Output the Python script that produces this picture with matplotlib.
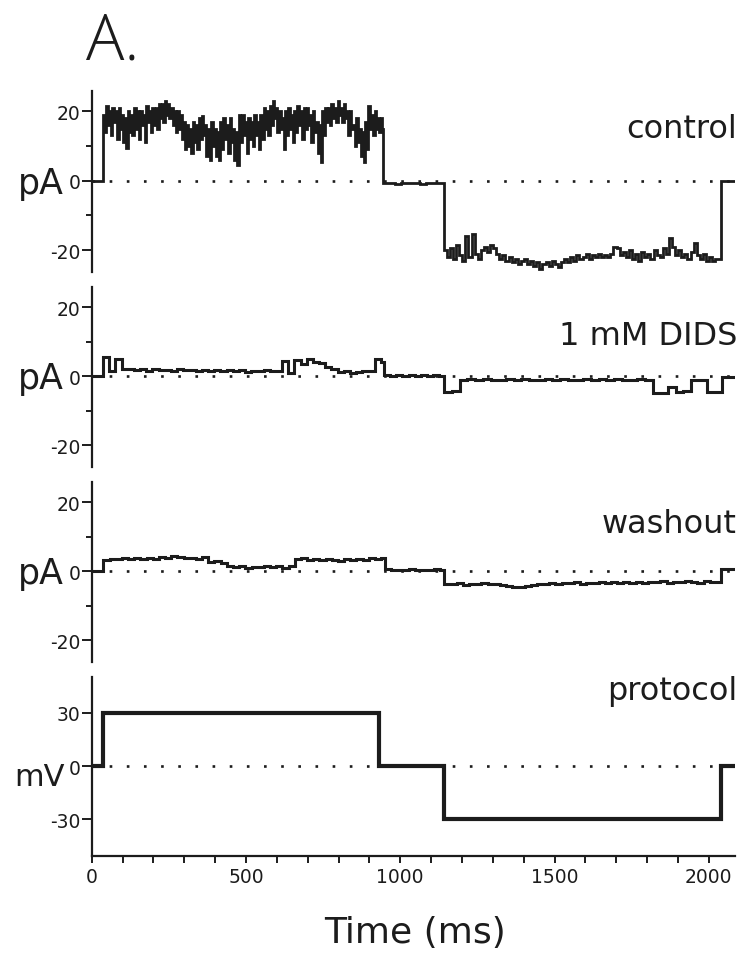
import numpy as np
import matplotlib
matplotlib.use("Agg")
import matplotlib.pyplot as plt
from matplotlib.ticker import FixedLocator

# ---------------- data ----------------
# Control current trace (pA): upper / lower envelope read per 10 ms bin (37-943 ms)
ctrl_on_start, ctrl_on_bin = 37, 10
ctrl_on_hi = [19, 21.5, 20, 21, 20, 21, 19, 18, 20, 19, 21, 20, 20, 19, 21.5, 20, 21, 21, 22,
              22, 22.8, 22, 21, 20, 20, 19, 17,
              16, 15, 17, 16, 18, 18.5, 16, 15, 17, 15, 14, 17, 18, 16, 18, 15, 14, 19, 19,
              17, 18, 17, 19, 17, 19,
              21, 20, 21.5, 22.8, 21, 20, 18, 20, 21, 19, 20, 21.5, 20, 21, 21, 19, 20, 17,
              16, 20, 21, 21, 22, 21, 22.8, 21, 22, 20, 20, 16, 18, 15, 14, 17, 21.5, 19, 20,
              18, 18]
ctrl_on_lo = [14, 16, 13, 17, 12, 15, 11, 9.5, 14, 13, 15, 12, 16, 11, 17, 14, 16, 15, 18,
              17, 19, 18, 16, 14, 15, 12, 9,
              10, 8, 11, 9, 12, 13, 7, 6, 10, 7, 6, 9, 12, 8, 11, 6, 4.5, 11, 13, 8, 12, 10,
              13, 9, 12,
              15, 13, 16, 18, 14, 15, 9, 13, 15, 11, 14, 16, 12, 15, 16, 11, 14, 8, 5.5, 13,
              17, 16, 18, 17, 19, 17, 18, 13, 15, 10, 11, 7, 5.5, 9, 15, 13, 15, 14, 15]
ctrl_off_start, ctrl_off_step = 943, 20
ctrl_off = [-0.8, -0.6, -0.9, -0.7, -0.8, -0.6, -0.9, -0.7, -0.8, -0.7]
ctrl_neg_start, ctrl_neg_step = 1141, 10
ctrl_neg = [-20, -22, -19.5, -22.5, -18.5, -21.5, -23, -16, -22, -15.5, -21, -22.5, -20, -19,
            -20.5, -18.5, -19.5, -21, -22.5, -21.5, -23, -22, -23.5, -22.5, -24, -23, -22.5,
            -24, -23, -24.5, -23.5, -25.5, -24, -23.5, -24.5, -23, -24, -25, -23.5, -22.5,
            -23.5, -22, -23, -21.5, -22.5, -22, -21, -22.5, -21.5, -22, -21, -22, -21.5, -22,
            -21, -19, -19.5, -21.5, -20.5, -22, -20, -22.5, -21, -23, -20.5, -22, -21, -22.5,
            -20, -21.5, -22, -19.5, -21, -16.5, -19, -21.5, -20, -22, -21, -22.5, -20.5, -18,
            -21.5, -22.5, -21, -23, -22, -23, -22.5]
ctrl_end_start, ctrl_end = 2040, [0]

# 1 mM DIDS current trace (pA)
dids_on_start, dids_on_step = 37, 20
dids_on = [5.5, 1.5, 5, 2, 2.2, 1.8, 2, 1.6, 2.1, 1.8, 1.9, 1.5, 2, 1.7, 1.9, 1.5, 1.8, 1.6,
           1.9, 1.4, 1.7, 1.5, 1.8, 1.3, 1.6, 1.4, 1.7, 1.5, 1.6, 4.5, 1, 4.8, 3.5, 5, 4, 3.8,
           2.5, 2, 1.2, 1.5, 0.8, 1.2, 1.4, 1.5, 5, 4]
dids_off_start, dids_off_step = 947, 20
dids_off = [0.3, 0.1, 0.2, 0.0, 0.3, 0.1, 0.2, 0.0, 0.2, 0.1]
dids_neg_start, dids_neg_step = 1143, 25
dids_neg = [-4.5, -4.3, -1.0, -0.8, -1.1, -0.9, -1.0, -1.2, -0.8, -1.0, -0.9, -1.1, -1.0,
            -0.8, -1.1, -0.9, -1.0, -1.2, -0.9, -1.0, -0.8, -1.1, -0.9, -1.0, -1.1, -0.9,
            -1.0, -5.0, -4.8, -3.0, -4.5, -4.2, -1.0, -1.2, -4.5, -4.6]
dids_end_start, dids_end = 2044, [-0.2]

# washout current trace (pA)
wash_on_start, wash_on_step = 38, 20
wash_on = [3.2, 3.6, 3.4, 3.8, 3.5, 3.7, 3.4, 3.9, 3.6, 4.0, 3.8, 4.3, 4.1, 3.7, 3.9, 3.6,
           4.0, 2.6, 2.8, 2.4, 1.6, 1.2, 1.5, 0.9, 1.3, 1.1, 1.6, 1.2, 1.4, 1.0, 1.6, 3.4,
           3.7, 3.3, 3.6, 3.2, 3.5, 3.3, 3.0, 3.4, 3.1, 3.5, 3.3, 3.7, 3.6, 3.8]
wash_off_start, wash_off_step = 949, 20
wash_off = [0.5, 0.3, 0.4, 0.2, 0.5, 0.3, 0.4, 0.3, 0.5, 0.4]
wash_neg_start, wash_neg_step = 1143, 20
wash_neg = [-3.6, -3.8, -3.5, -3.9, -3.6, -3.7, -3.4, -3.8, -3.6, -4.0, -4.4, -4.7, -4.5,
            -4.2, -3.9, -3.6, -3.8, -3.4, -3.6, -3.3, -3.5, -3.2, -3.6, -3.3, -3.4, -3.1,
            -3.5, -3.2, -3.4, -3.0, -3.3, -3.1, -3.4, -3.0, -3.2, -2.9, -3.3, -3.0, -3.2,
            -2.9, -3.1, -3.3, -2.9, -3.1, -3.0]
wash_end_start, wash_end = 2039, [0.5]

# voltage protocol (mV)
prot_times = [0, 37, 930, 1143, 2040]
prot_levels = [0, 30, 0, -30, 0]

t_end = 2090
pre_level = [0]

panel_labels = ["control", "1 mM DIDS", "washout", "protocol"]
pa_ticks = [20, 0, -20]
pa_ticklabels = ["20", "0", "-20"]
mv_ticks = [30, 0, -30]
mv_ticklabels = ["30", "0", "-30"]
x_ticks = [0, 500, 1000, 1500, 2000]
x_ticklabels = ["0", "500", "1000", "1500", "2000"]


def interleave(hi, lo):
    out = []
    for a, b in zip(hi, lo):
        out += [a, b]
    return out


def assemble(pieces, end):
    t, v = [], []
    for start, step, vals in pieces:
        for k, val in enumerate(vals):
            t.append(start + k * step)
            v.append(val)
    t.append(end)
    v.append(v[-1])
    return np.array(t, float), np.array(v, float)


ctrl_t, ctrl_v = assemble([(0, 0, pre_level),
                           (ctrl_on_start, ctrl_on_bin / 2, interleave(ctrl_on_hi, ctrl_on_lo)),
                           (ctrl_off_start, ctrl_off_step, ctrl_off),
                           (ctrl_neg_start, ctrl_neg_step, ctrl_neg),
                           (ctrl_end_start, 0, ctrl_end)], t_end)
dids_t, dids_v = assemble([(0, 0, pre_level), (dids_on_start, dids_on_step, dids_on),
                           (dids_off_start, dids_off_step, dids_off),
                           (dids_neg_start, dids_neg_step, dids_neg),
                           (dids_end_start, 0, dids_end)], t_end)
wash_t, wash_v = assemble([(0, 0, pre_level), (wash_on_start, wash_on_step, wash_on),
                           (wash_off_start, wash_off_step, wash_off),
                           (wash_neg_start, wash_neg_step, wash_neg),
                           (wash_end_start, 0, wash_end)], t_end)
prot_t = np.array(prot_times + [t_end], float)
prot_v = np.array(prot_levels + [prot_levels[-1]], float)

# ---------------- figure ----------------
W, H = 746, 954
fig = plt.figure(figsize=(W / 100, H / 100), dpi=100)
ink = "#1c1c1c"
plt.rcParams["font.family"] = ["DejaVu Sans"]

left = 91.7 / W
width = (735 - 91.7) / W
panels_px = [(92, 273), (288, 468), (483, 663), (678, 857)]
label_base = [138, 345, 533, 700]

series = [(ctrl_t, ctrl_v), (dids_t, dids_v), (wash_t, wash_v), (prot_t, prot_v)]
line_w = [2.0, 2.2, 2.2, 3.0]
for i, (top, bot) in enumerate(panels_px):
    ax = fig.add_axes([left, 1 - bot / H, width, (bot - top) / H])
    t, v = series[i]
    is_prot = i == 3
    ax.plot(t, v, drawstyle="steps-post", color=ink, lw=line_w[i],
            solid_joinstyle="miter", zorder=3)
    ax.axhline(0, color=ink, lw=1.9, linestyle=(0, (1, 5.5)), zorder=2)
    ax.set_xlim(0, 2085)
    for s in ["top", "right"]:
        ax.spines[s].set_visible(False)
    ax.spines["left"].set_linewidth(1.6)
    ax.spines["left"].set_color(ink)
    if is_prot:
        ax.set_ylim(-50.5, 50)
        ax.set_yticks(mv_ticks)
        ax.set_yticklabels(mv_ticklabels)
        ax.spines["bottom"].set_linewidth(1.6)
        ax.spines["bottom"].set_color(ink)
        ax.set_xticks(x_ticks)
        ax.set_xticklabels(x_ticklabels)
        ax.xaxis.set_minor_locator(FixedLocator(np.arange(100, 2001, 100)))
        ax.tick_params(axis="x", which="major", length=5, width=1.4, color=ink,
                       labelsize=13.5, pad=3, labelcolor=ink)
        ax.tick_params(axis="x", which="minor", length=5, width=1.4, color=ink)
        ax.annotate("mV", xy=(0, 0), xycoords="data", xytext=(-27, -19),
                    textcoords="offset pixels", ha="right", va="baseline",
                    fontsize=22, color=ink)
    else:
        ax.set_ylim(-26.3, 25.8)
        ax.set_yticks(pa_ticks)
        ax.set_yticklabels(pa_ticklabels)
        ax.yaxis.set_minor_locator(FixedLocator([10, -10]))
        ax.tick_params(axis="y", which="minor", length=4, width=1.4, color=ink)
        ax.spines["bottom"].set_visible(False)
        ax.set_xticks([])
        ax.annotate("pA", xy=(0, 0), xycoords="data", xytext=(-28, -12),
                    textcoords="offset pixels", ha="right", va="baseline",
                    fontsize=25, color=ink)
    ax.tick_params(axis="y", which="major", length=7, width=1.4, color=ink,
                   labelsize=13.5, pad=1, labelcolor=ink)
    ax.patch.set_alpha(0)
    fig.text(737 / W, 1 - label_base[i] / H, panel_labels[i], ha="right",
             va="baseline", fontsize=23, color=ink)

fig.text(1047 * width / 2085 + left, 1 - 933 / H, "Time (ms)", ha="center",
         va="center", fontsize=26, color=ink)
fig.text(86 / W, 1 - 60 / H, "A.", ha="left", va="baseline", fontsize=46,
         color=ink, family=["Open Sans", "DejaVu Sans"], weight="light")

fig.savefig("out.png", dpi=100)
